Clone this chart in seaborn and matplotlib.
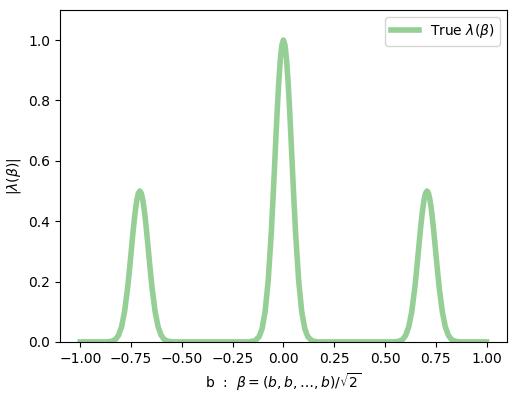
import matplotlib
matplotlib.use("Agg")
import matplotlib.pyplot as plt
import seaborn as sns
import pandas as pd

# values
b_vals = [-1.0, -0.87,
          -0.847, -0.827, -0.812, -0.797, -0.782, -0.767, -0.7595, -0.752, -0.7445,
          -0.737, -0.7295, -0.722, -0.7145, -0.707,
          -0.6995, -0.692, -0.6845, -0.677, -0.6695, -0.662, -0.6545, -0.647,
          -0.632, -0.617, -0.602, -0.587, -0.567,
          -0.54, -0.17,
          -0.14, -0.12, -0.105, -0.09, -0.075, -0.06, -0.0525, -0.045, -0.0375,
          -0.03, -0.0225, -0.015, -0.0075, 0.0,
          0.0075, 0.015, 0.0225, 0.03, 0.0375, 0.045, 0.0525, 0.06,
          0.075, 0.09, 0.105, 0.12, 0.14,
          0.17, 0.54,
          0.567, 0.587, 0.602, 0.617, 0.632, 0.647, 0.6545, 0.662, 0.6695,
          0.677, 0.6845, 0.692, 0.6995, 0.707,
          0.7145, 0.722, 0.7295, 0.737, 0.7445, 0.752, 0.7595, 0.767,
          0.782, 0.797, 0.812, 0.827, 0.847,
          0.87, 1.0]
lam_vals = [0.0, 0.0,
            0.002, 0.008, 0.022, 0.050, 0.101, 0.180, 0.229, 0.282, 0.336,
            0.388, 0.433, 0.469, 0.492, 0.5,
            0.492, 0.469, 0.433, 0.388, 0.336, 0.282, 0.229, 0.180,
            0.101, 0.050, 0.022, 0.008, 0.002,
            0.0, 0.0,
            0.004, 0.017, 0.044, 0.101, 0.203, 0.360, 0.458, 0.563, 0.671,
            0.775, 0.866, 0.938, 0.984, 1.0,
            0.984, 0.938, 0.866, 0.775, 0.671, 0.563, 0.458, 0.360,
            0.203, 0.101, 0.044, 0.017, 0.004,
            0.0, 0.0,
            0.002, 0.008, 0.022, 0.050, 0.101, 0.180, 0.229, 0.282, 0.336,
            0.388, 0.433, 0.469, 0.492, 0.5,
            0.492, 0.469, 0.433, 0.388, 0.336, 0.282, 0.229, 0.180,
            0.101, 0.050, 0.022, 0.008, 0.002,
            0.0, 0.0]

df = pd.DataFrame({"b": b_vals, "lam": lam_vals})

fig, ax = plt.subplots(figsize=(5.13, 3.93), dpi=100)
sns.lineplot(data=df, x="b", y="lam", ax=ax, color="tab:green", alpha=0.5,
             linewidth=4, solid_joinstyle="round", label=r"True $\lambda(\beta)$")
ax.set_ylim(0, 1.1)
ax.set_xlabel(r"b  :  $\beta = (b, b, \ldots, b)/\sqrt{2}$")
ax.set_ylabel(r"$|\lambda(\beta)|$")
ax.legend(loc="upper right")
fig.subplots_adjust(left=0.117, right=0.988, top=0.975, bottom=0.13)
fig.savefig("out.png", dpi=100)
